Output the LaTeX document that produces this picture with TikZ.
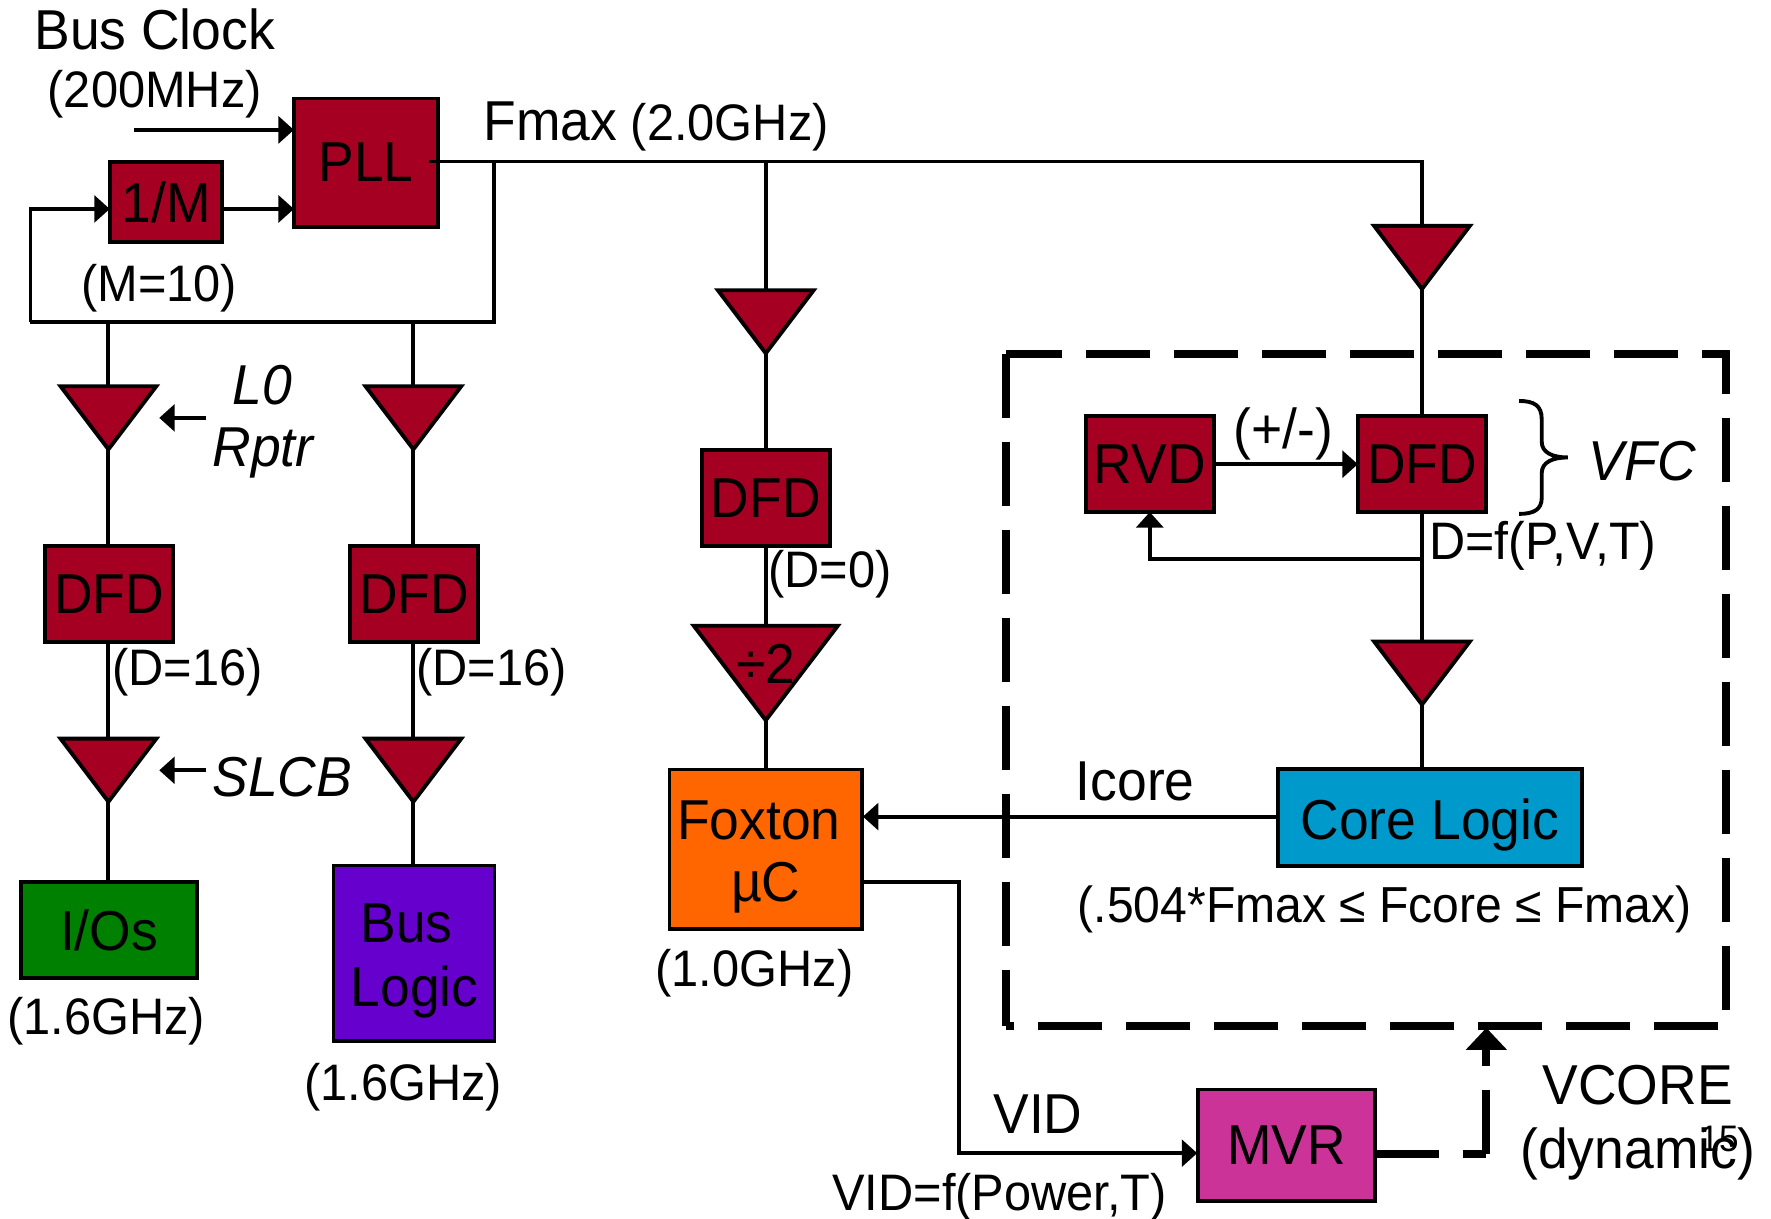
\documentclass[tikz,border=0pt]{standalone}
\usepackage{fontspec}
\setmainfont[FakeStretch=0.95]{Liberation Sans}
\usetikzlibrary{arrows.meta,shapes.geometric}
\definecolor{dfdred}{HTML}{A50021}
\definecolor{iogreen}{HTML}{008000}
\definecolor{buspurple}{HTML}{6600CC}
\definecolor{foxorange}{HTML}{FF6600}
\definecolor{coreblue}{HTML}{0099CC}
\definecolor{mvrpink}{HTML}{CC3399}
\tikzset{
    wh/.style 2 args={minimum width=#1*0.3202pt, minimum height=#2*0.3202pt},
    block/.style={draw, line width=1.1pt, inner sep=0pt, outer sep=0pt, align=center, font=\fontsize{16}{19}\selectfont},
    redblock/.style={block, fill=dfdred},
    rptr/.style={draw, line width=1.1pt, fill=dfdred, inner sep=0pt, outer sep=0pt,
        isosceles triangle, isosceles triangle stretches, shape border rotate=270, anchor=north},
    txt/.style={inner sep=0pt, font=\fontsize{14.6}{17}\selectfont},
    bigtxt/.style={inner sep=0pt, font=\fontsize{16}{19}\selectfont},
    slanttxt/.style={inner sep=0pt, font=\fontsize{16}{19}\selectfont\itshape},
    wire/.style={line width=1.1pt},
    arrow/.style={wire, -{Triangle[length=4.4pt,width=7.6pt]}},
    fence/.style={line width=2.27pt, black},
    fencedash/.style={fence, dash pattern=on 18.2pt off 6.83pt},
}
\begin{document}
\begin{tikzpicture}[x=0.011295cm, y=-0.011295cm]
        \useasboundingbox (0,0) rectangle (1568,1079);

        % PLL and feedback
        \node[redblock, wh={128}{114}] (pll) at (324,144) {PLL};
        \node[redblock, wh={100}{71}] (divm) at (147,179) {1/M};
        \node[bigtxt] (busclk) at (137,26) {Bus Clock};
        \node[txt] (busfreq) at (137,83) {(200MHz)};
        \node[txt] (mval) at (141,255) {(M=10)};
        \node[txt] (fmax) at (581,112) {{\fontsize{16}{19}\selectfont Fmax} (2.0GHz)};

        \coordinate (clkin) at (119,115);
        \coordinate (fbin) at (27,185);
        \coordinate (fbout) at (27,285);
        \coordinate (fbup) at (437,285);
        \coordinate (pllout) at (380,143);
        \coordinate (fbtap) at (437,143);
        \coordinate (midtap) at (678,143);
        \coordinate (coretap) at (1259,143);
        \coordinate (iotap) at (96,285);
        \coordinate (bustap) at (366,285);

        % I/O leg
        \node[rptr, wh={85}{56}] (rptra) at (96,342) {};
        \node[redblock, wh={114}{85}] (dfda) at (96.5,526) {DFD};
        \node[rptr, wh={85}{56}] (rptrb) at (96,654) {};
        \node[block, fill=iogreen, wh={157}{85}] (ios) at (96.5,823.5) {I/Os};
        \node[txt] (dsixa) at (166,595) {(D=16)};
        \node[txt] (iofreq) at (94,904) {(1.6GHz)};

        % bus leg
        \node[rptr, wh={85}{56}] (rptrc) at (366,342) {};
        \node[redblock, wh={114}{85}] (dfdb) at (366.5,526) {DFD};
        \node[rptr, wh={85}{56}] (rptrd) at (366,654) {};
        \node[block, fill=buspurple, wh={143}{156}] (buslogic) at (366.5,844) {};
        \node[bigtxt] (bustxt) at (360,818) {Bus};
        \node[bigtxt] (logictxt) at (367,878) {Logic};
        \node[txt] (dsixb) at (435,595) {(D=16)};
        \node[txt] (busfreqb) at (357,963) {(1.6GHz)};

        \node[slanttxt] (lzero) at (232,341) {L0};
        \node[slanttxt] (rptrtxt) at (233,401) {Rptr};
        \node[slanttxt] (slcb) at (250,688) {SLCB};
        \coordinate (lzeroend) at (182,370);
        \coordinate (lzerotip) at (141,370);
        \coordinate (slcbend) at (182,682);
        \coordinate (slcbtip) at (141,682);

        % middle leg
        \node[rptr, wh={85}{56}] (rptre) at (678,257) {};
        \node[redblock, wh={114}{85}] (dfdc) at (678,441) {DFD};
        \node[rptr, wh={128}{84}] (divtwo) at (678,554) {};
        \node[bigtxt] (divtxt) at (678,588) {÷2};
        \node[block, fill=foxorange, wh={171}{142}] (foxton) at (678,752) {};
        \node[bigtxt] (foxtxt) at (672,726) {Foxton};
        \node[bigtxt] (muctxt) at (678,786) {µC};
        \node[txt] (dzero) at (735,508) {(D=0)};
        \node[txt] (foxfreq) at (668,862) {(1.0GHz)};

        % core leg
        \node[rptr, wh={85}{56}] (rptrf) at (1259,200) {};
        \node[redblock, wh={114}{85}] (dfdd) at (1259,411) {DFD};
        \node[redblock, wh={114}{85}] (rvd) at (1018,411) {RVD};
        \node[rptr, wh={85}{56}] (rptrg) at (1259,568) {};
        \node[block, fill=coreblue, wh={270}{86}] (core) at (1266,724) {};
        \node[bigtxt] (coretxt) at (1266,730) {Core Logic};
        \node[bigtxt] (plusminus) at (1136,384) {(+/-)};
        \node[txt, font=\fontsize{15}{18}\selectfont] (dfunc) at (1366,483) {D=f(P,V,T)};
        \node[slanttxt] (vfc) at (1454,408) {VFC};
        \node[bigtxt] (icore) at (1005,692) {Icore};
        \node[txt, font=\fontsize{14.4}{17}\selectfont] (frange) at (1226,805) {(.504*Fmax ≤ Fcore ≤ Fmax)};
        \coordinate (dfdtap) at (1259,495);
        \coordinate (rvdturn) at (1018,495);
        \coordinate (corein) at (1131,723);
        \coordinate (foxin) at (764,723);

        % regulator
        \node[block, fill=mvrpink, wh={157}{99}] (mvr) at (1139,1014) {MVR};
        \node[bigtxt] (vid) at (919,986) {VID};
        \node[txt] (vidfunc) at (885,1060) {VID=f(Power,T)};
        \node[bigtxt] (vcore) at (1450,961) {VCORE};
        \node[bigtxt] (dyn) at (1450,1022) {(dynamic)};
        \node[inner sep=0pt, font=\fontsize{10.5}{12}\selectfont] (pagenum) at (1522,1008) {15};
        \coordinate (vidout) at (764,781);
        \coordinate (vidturn) at (849,781);
        \coordinate (vidin) at (1060,1021);
        \coordinate (vcturn) at (1316,1021.7);
        \coordinate (vctip) at (1316,910);

        % dashed domain
        \coordinate (nw) at (890.7,313.4);
        \coordinate (ne) at (1528,313.4);
        \coordinate (ncorner) at (1532,313.4);
        \coordinate (se) at (1528,908.4);
        \coordinate (sw) at (890.7,908.4);
        \coordinate (send) at (1521,908.4);
        \draw[fencedash, dash phase=2.3pt] (nw) -- (ncorner);
        \draw[fencedash, dash phase=15.9pt] (sw) -- (send);
        \draw[fencedash] (nw) -- (sw);
        \draw[fencedash, dash phase=6.8pt] (ne) -- (se);

        % clock tree
        \draw[arrow] (clkin) -- (clkin -| pll.west);
        \draw[arrow] (divm.east |- fbin) -- (fbin -| pll.west);
        \draw[arrow] (fbout) -- (fbin) -- (fbin -| divm.west);
        \draw[wire] (fbout) -- (fbup) -- (fbtap);
        \draw[wire] (pllout) -- (coretap) -- (rptrf.north);
        \draw[wire] (midtap) -- (rptre.north);
        \draw[wire] (iotap) -- (rptra.north);
        \draw[wire] (bustap) -- (rptrc.north);
        \draw[wire] (rptra.apex) -- (rptra.apex |- dfda.north);
        \draw[wire] (rptrb.north |- dfda.south) -- (rptrb.north);
        \draw[wire] (rptrb.apex) -- (rptrb.apex |- ios.north);
        \draw[wire] (rptrc.apex) -- (rptrc.apex |- dfdb.north);
        \draw[wire] (rptrd.north |- dfdb.south) -- (rptrd.north);
        \draw[wire] (rptrd.apex) -- (rptrd.apex |- buslogic.north);
        \draw[wire] (rptre.apex) -- (dfdc.north);
        \draw[wire] (dfdc.south) -- (divtwo.north);
        \draw[wire] (divtwo.apex) -- (foxton.north);
        \draw[wire] (rptrf.apex) -- (dfdd.north);
        \draw[wire] (dfdd.south) -- (rptrg.north);
        \draw[wire] (rptrg.apex) -- (rptrg.apex |- core.north);
        \draw[arrow] (lzeroend) -- (lzerotip);
        \draw[arrow] (slcbend) -- (slcbtip);

        % control loops
        \draw[arrow] (rvd) -- (dfdd);
        \draw[arrow] (dfdtap) -- (rvdturn) -- (rvd.south);
        \draw[arrow] (corein) -- (foxin);
        \draw[arrow] (vidout) -- (vidturn) -- (vidturn |- vidin) -- (vidin);
        \draw[fencedash] (mvr.east |- vcturn) -- (vcturn);
        \draw[fencedash, -{Triangle[length=6.3pt,width=11.4pt]}] (vcturn) -- (vctip);

        % brace
        \draw[wire]
            (1345,355)
            .. controls (1358,355) and (1365,359) ..
            (1365,371)
            -- (1365,391)
            .. controls (1365,401) and (1375,405) ..
            (1388,405)
            .. controls (1375,405) and (1365,409) ..
            (1365,419)
            -- (1365,441)
            .. controls (1365,451) and (1358,455) ..
            (1345,455);
\end{tikzpicture}
\end{document}
